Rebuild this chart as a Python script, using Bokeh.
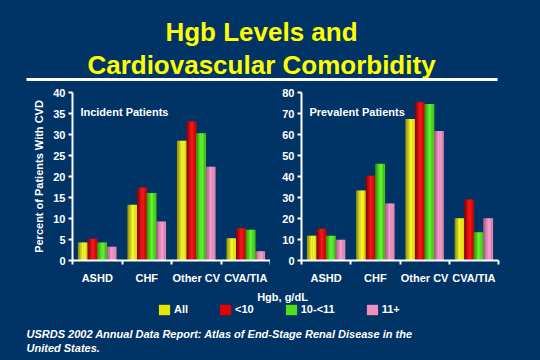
from bokeh.plotting import figure
from bokeh.layouts import column, row
from bokeh.models import (Range1d, FixedTicker, ColumnDataSource, Label, Legend,
                          LegendItem, LinearAxis)
from bokeh.transform import dodge
from bokeh.embed import file_html
from bokeh.resources import INLINE
from bokeh.core.properties import value

# ---------------- data ----------------
categories = ["ASHD", "CHF", "Other CV", "CVA/TIA"]
series_labels = ["All", "<10", "10-<11", "11+"]

incident_all = [4.3, 13.3, 28.5, 5.3]
incident_lt10 = [5.2, 17.4, 33.1, 7.7]
incident_10_11 = [4.3, 16.1, 30.3, 7.3]
incident_11p = [3.3, 9.3, 22.3, 2.2]

prevalent_all = [11.8, 33.3, 67.4, 20.1]
prevalent_lt10 = [15.1, 40.4, 75.4, 29.1]
prevalent_10_11 = [11.8, 46.1, 74.5, 13.5]
prevalent_11p = [9.9, 27.2, 61.7, 20.1]

incident_ticks = [0, 5, 10, 15, 20, 25, 30, 35, 40]
prevalent_ticks = [0, 10, 20, 30, 40, 50, 60, 70, 80]

title_lines = ["Hgb Levels and", "Cardiovascular Comorbidity"]
legend_title = "Hgb, g/dL"
source_lines = ["USRDS 2002 Annual Data Report: Atlas of End-Stage Renal Disease in the",
                "United States."]

# ---------------- style ----------------
BG = "#003366"
FONT = "Liberation Sans"
WHITE = "#ffffff"
YELLOW = "#ffff00"
NAN = float("nan")

ramps = [
    ("#8c8c00", "#ffff33", "#d9d900"),
    ("#800000", "#ff1a1a", "#c80000"),
    ("#2e8c00", "#66ff33", "#3fbf10"),
    ("#9a5a78", "#ff9fd0", "#d684ad"),
]
swatch_colors = ["#e6e600", "#e60000", "#4ddf1a", "#ee90c0"]


def _hex(c):
    c = c.lstrip("#")
    return [int(c[i:i + 2], 16) for i in (0, 2, 4)]


def mix(a, b, t):
    ca, cb = _hex(a), _hex(b)
    return "#" + "".join("%02x" % int(round(x + (y - x) * t)) for x, y in zip(ca, cb))


def ramp(k, t):
    dark, bright, edge = ramps[k]
    if t < 0.55:
        return mix(dark, bright, t / 0.55)
    return mix(bright, edge, (t - 0.55) / 0.45)


def make_chart(series_vals, ymax, yticks, subtitle, sub_y, border_left, border_right, ylabel):
    p = figure(width=270, height=202, x_range=Range1d(0, len(categories)),
               y_range=Range1d(0, ymax), output_backend="svg", toolbar_location=None,
               x_axis_type=None, y_axis_type=None,
               min_border_left=border_left, min_border_right=border_right,
               min_border_top=8, min_border_bottom=24,
               background_fill_color=BG, border_fill_color=BG, outline_line_color=None)
    p.xgrid.visible = False
    p.ygrid.visible = False

    xs = [i + 0.5 for i in range(len(categories))]
    data = {"x": xs}
    keys = []
    for k, vals in enumerate(series_vals):
        key = "s%d" % k
        data[key] = vals
        keys.append(key)
    src = ColumnDataSource(data)

    bar_w = 0.193
    K = 7
    slice_w = bar_w / K
    for k, key in enumerate(keys):
        base = (-1.5 + k) * bar_w
        for j in range(K):
            off = base + (j + 0.5 - K / 2) * slice_w
            col = ramp(k, (j + 0.5) / K)
            p.vbar(x=dodge("x", off, range=p.x_range), top=key, width=slice_w * 1.3,
                   source=src, fill_color=col, line_color=None)

    xaxis = LinearAxis(ticker=FixedTicker(ticks=xs, minor_ticks=list(range(len(categories) + 1))),
                       major_label_overrides={x: c for x, c in zip(xs, categories)})
    xaxis.axis_line_color = WHITE
    xaxis.axis_line_width = 2
    xaxis.major_tick_out = 0
    xaxis.major_tick_in = 0
    xaxis.major_tick_line_color = None
    xaxis.minor_tick_out = 4
    xaxis.minor_tick_in = 0
    xaxis.minor_tick_line_color = WHITE
    xaxis.minor_tick_line_width = 2
    xaxis.major_label_standoff = 7
    xaxis.major_label_text_color = WHITE
    xaxis.major_label_text_font = FONT
    xaxis.major_label_text_font_style = "bold"
    xaxis.major_label_text_font_size = "11px"
    p.add_layout(xaxis, "below")

    yaxis = LinearAxis(ticker=FixedTicker(ticks=yticks, minor_ticks=[]))
    if ylabel:
        yaxis.axis_label = ylabel
        yaxis.axis_label_text_color = WHITE
        yaxis.axis_label_text_font = FONT
        yaxis.axis_label_text_font_style = "bold"
        yaxis.axis_label_text_font_size = "11px"
        yaxis.axis_label_standoff = 5
    yaxis.axis_line_color = WHITE
    yaxis.axis_line_width = 2
    yaxis.major_tick_out = 4
    yaxis.major_tick_in = 0
    yaxis.major_tick_line_color = WHITE
    yaxis.major_tick_line_width = 2
    yaxis.minor_tick_line_color = None
    yaxis.major_label_standoff = 3
    yaxis.major_label_text_color = WHITE
    yaxis.major_label_text_font = FONT
    yaxis.major_label_text_font_style = "bold"
    yaxis.major_label_text_font_size = "11px"
    p.add_layout(yaxis, "left")

    p.add_layout(Label(x=0.16, y=sub_y, text=subtitle, text_color=WHITE,
                       text_font=FONT, text_font_style="bold", text_font_size="11px",
                       text_baseline="alphabetic"))
    return p


left = make_chart([incident_all, incident_lt10, incident_10_11, incident_11p], 40,
                  incident_ticks, "Incident Patients", 35.3, 72, 0,
                  "Percent of Patients With CVD")
right = make_chart([prevalent_all, prevalent_lt10, prevalent_10_11, prevalent_11p], 80,
                   prevalent_ticks, "Prevalent Patients", 70.5, 31, 42, None)

# ---------------- header ----------------
header = figure(width=540, height=84, x_range=Range1d(0, 540), y_range=Range1d(84, 0),
                output_backend="svg", toolbar_location=None, x_axis_type=None, y_axis_type=None,
                min_border=0, background_fill_color=BG, border_fill_color=BG,
                outline_line_color=None)
header.xgrid.visible = False
header.ygrid.visible = False
header.text(x=[261, 261], y=[31, 64], text=title_lines, text_font=value(FONT),
            text_font_style="bold", text_font_size="26px", text_color=YELLOW,
            text_align="center", text_baseline="alphabetic")
header.segment(x0=[26], y0=[79], x1=[497], y1=[79], line_color=WHITE, line_width=3)

# ---------------- footer ----------------
footer = figure(width=540, height=74, x_range=Range1d(0, 540), y_range=Range1d(74, 0),
                output_backend="svg", toolbar_location=None, x_axis_type=None, y_axis_type=None,
                min_border=0, background_fill_color=BG, border_fill_color=BG,
                outline_line_color=None)
footer.xgrid.visible = False
footer.ygrid.visible = False
footer.text(x=[282], y=[10.5], text=[legend_title], text_font=value(FONT),
            text_font_style="bold", text_font_size="11px", text_color=WHITE,
            text_align="center", text_baseline="alphabetic")
footer.text(x=[26, 26], y=[47.3, 61.3], text=source_lines, text_font=value(FONT),
            text_font_style="bold italic", text_font_size="11px", text_color=WHITE,
            text_align="left", text_baseline="alphabetic")

items = []
for lab, col in zip(series_labels, swatch_colors):
    r = footer.vbar(x=[NAN], top=[NAN], width=1, fill_color=col, line_color=None)
    items.append(LegendItem(label=lab, renderers=[r]))
legend = Legend(items=items, orientation="horizontal", location=(157, 44.5),
                padding=0, margin=0, spacing=30, glyph_width=14, glyph_height=13,
                label_standoff=3, label_width=0, label_height=13,
                label_text_color=WHITE, label_text_font=FONT,
                label_text_font_style="bold", label_text_font_size="11px",
                border_line_color=None, background_fill_alpha=0)
footer.add_layout(legend)

layout = column(header, row(left, right, spacing=0, styles={"background-color": BG}),
                footer, spacing=0, styles={"background-color": BG})

open("out.html", "w").write(file_html(layout, INLINE))
